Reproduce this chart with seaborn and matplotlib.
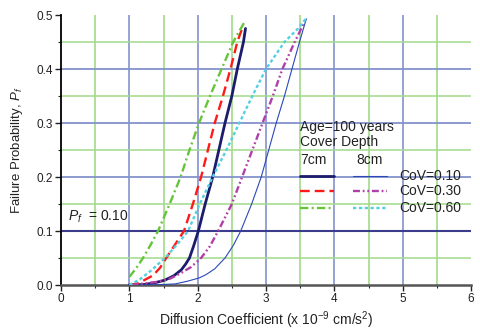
import matplotlib
matplotlib.use("Agg")
import matplotlib.pyplot as plt
import seaborn as sns
import numpy as np
from matplotlib.ticker import MultipleLocator, FormatStrFormatter

# ---------------- data ----------------
x_7_010 = [1.0, 1.23, 1.40, 1.52, 1.65, 1.76, 1.82, 1.88, 1.94, 2.01, 2.11, 2.22, 2.31, 2.40, 2.50, 2.58, 2.67, 2.70]
y_7_010 = [0.0, 0.001, 0.005, 0.009, 0.017, 0.028, 0.038, 0.05, 0.072, 0.1, 0.15, 0.2, 0.25, 0.3, 0.35, 0.4, 0.45, 0.475]

x_7_030 = [1.0, 1.13, 1.35, 1.45, 1.54, 1.67, 1.80, 1.93, 2.05, 2.15, 2.25, 2.37, 2.48, 2.58, 2.65]
y_7_030 = [0.0, 0.003, 0.018, 0.032, 0.05, 0.075, 0.1, 0.15, 0.2, 0.25, 0.3, 0.35, 0.4, 0.45, 0.475]

x_7_060 = [1.0, 1.10, 1.20, 1.31, 1.42, 1.59, 1.75, 1.88, 2.02, 2.18, 2.35, 2.52, 2.69]
y_7_060 = [0.015, 0.031, 0.05, 0.074, 0.1, 0.15, 0.2, 0.25, 0.3, 0.35, 0.4, 0.45, 0.488]

x_8_010 = [1.0, 1.4, 1.67, 1.85, 2.02, 2.12, 2.25, 2.40, 2.52, 2.63, 2.79, 2.93, 3.04, 3.15, 3.27, 3.38, 3.49, 3.59]
y_8_010 = [0.0, 0.0005, 0.002, 0.007, 0.013, 0.019, 0.03, 0.05, 0.073, 0.1, 0.15, 0.2, 0.25, 0.3, 0.35, 0.4, 0.45, 0.493]

x_8_030 = [1.03, 1.42, 1.60, 1.74, 1.90, 2.05, 2.18, 2.30, 2.50, 2.65, 2.80, 2.95, 3.10, 3.24, 3.42, 3.59]
y_8_030 = [0.0, 0.006, 0.012, 0.021, 0.033, 0.05, 0.072, 0.1, 0.15, 0.2, 0.25, 0.3, 0.35, 0.4, 0.45, 0.494]

x_8_060 = [1.0, 1.15, 1.33, 1.52, 1.70, 1.86, 2.03, 2.22, 2.42, 2.61, 2.80, 3.0, 3.27, 3.47, 3.59]
y_8_060 = [0.0, 0.01, 0.028, 0.05, 0.075, 0.1, 0.15, 0.2, 0.25, 0.3, 0.35, 0.4, 0.45, 0.475, 0.494]

cov_labels = ["CoV=0.10", "CoV=0.30", "CoV=0.60"]
depth_labels = ["7cm", "8cm"]
x_ticks = [0, 1, 2, 3, 4, 5, 6]
y_ticks = [0.0, 0.1, 0.2, 0.3, 0.4, 0.5]
pf_limit = 0.10

# ---------------- style ----------------
sns.set_style("ticks")
plt.rcParams["font.family"] = ["Liberation Sans", "DejaVu Sans"]
plt.rcParams["mathtext.fontset"] = "custom"
plt.rcParams["mathtext.rm"] = "Liberation Sans"
plt.rcParams["mathtext.it"] = "Liberation Sans:italic"
plt.rcParams["lines.scale_dashes"] = False

fig = plt.figure(figsize=(4.81, 3.30), dpi=100)
ax = fig.add_axes([61 / 481, 1 - 285 / 330, 410 / 481, 270 / 330])

blue_grid = "#8492cc"
green_grid = "#a2da8a"

# grid lines (interior only, like the reference)
for gx in np.arange(0.5, 6.0, 0.5):
    if abs(gx - round(gx)) < 1e-9:
        ax.axvline(gx, color=blue_grid, lw=1.2, zorder=0.5)
    else:
        ax.axvline(gx, color=green_grid, lw=1.2, zorder=0.5)
for gy in np.arange(0.05, 0.5, 0.05):
    gy = round(gy, 2)
    if abs(gy - pf_limit) < 1e-9:
        continue
    if abs(gy * 10 - round(gy * 10)) < 1e-9:
        ax.axhline(gy, color=blue_grid, lw=1.3, zorder=0.5)
    else:
        ax.axhline(gy, color=green_grid, lw=1.1, zorder=0.5)
ax.axhline(pf_limit, color="#3c3c8c", lw=1.5, zorder=0.6)

styles = {
    "7_010": dict(color="#1c1c6c", lw=2.0, ls="-"),
    "7_030": dict(color="#ff1a1a", lw=1.7, ls=(0, (7, 3.6))),
    "7_060": dict(color="#66c43a", lw=1.7, ls=(0, (6, 2.4, 1.4, 2.4))),
    "8_010": dict(color="#2a48b8", lw=0.8, ls="-"),
    "8_030": dict(color="#b040a8", lw=1.7, ls=(0, (5, 2, 1.3, 2, 1.3, 2))),
    "8_060": dict(color="#55d0e0", lw=1.7, ls=(0, (2.4, 1.8))),
}
series = {
    "7_010": (x_7_010, y_7_010),
    "7_030": (x_7_030, y_7_030),
    "7_060": (x_7_060, y_7_060),
    "8_010": (x_8_010, y_8_010),
    "8_030": (x_8_030, y_8_030),
    "8_060": (x_8_060, y_8_060),
}
for key, (xs, ys) in series.items():
    st = styles[key]
    sns.lineplot(x=xs, y=ys, ax=ax, color=st["color"], linewidth=st["lw"],
                 linestyle=st["ls"], zorder=3, estimator=None, sort=False)

ax.set_xlim(0, 6)
ax.set_ylim(0, 0.5)
ax.set_xticks(x_ticks)
ax.set_yticks(y_ticks)
ax.yaxis.set_major_formatter(FormatStrFormatter("%.1f"))
ax.xaxis.set_minor_locator(MultipleLocator(0.5))
ax.yaxis.set_minor_locator(MultipleLocator(0.05))
ax.tick_params(axis="both", which="major", direction="out", length=4, width=1,
               labelsize=8.5, colors="#222222", pad=2)
ax.tick_params(axis="both", which="minor", direction="out", length=2.5, width=0.8)

for s in ["top", "right"]:
    ax.spines[s].set_visible(False)
ax.spines["left"].set_color("black")
ax.spines["left"].set_linewidth(1.3)
ax.spines["bottom"].set_color("#555555")
ax.spines["bottom"].set_linewidth(1.8)

ax.set_xlabel("Diffusion Coefficient (x 10$^{-9}$ cm/s$^2$)", fontsize=10, color="#222222")
ax.xaxis.label.set_va("baseline")
ax.xaxis.set_label_coords(0.5, -(325 - 285) / 270)
ax.set_ylabel("Failure Probability, $P_f$", fontsize=9.5, color="#222222", labelpad=8)

# annotations / legend block
ax.text(0.017, 0.253, "$P_f$  = 0.10", transform=ax.transAxes, fontsize=10,
        va="center", ha="left", color="#222222")

fs = 10
tx = 0.583
ax.text(tx, 0.586, "Age=100 years", transform=ax.transAxes, fontsize=fs, va="center", color="#222222")
ax.text(tx, 0.529, "Cover Depth", transform=ax.transAxes, fontsize=fs, va="center", color="#222222")
ax.text(tx, 0.463, depth_labels[0], transform=ax.transAxes, fontsize=fs, va="center", color="#222222")
ax.text(0.721, 0.463, depth_labels[1], transform=ax.transAxes, fontsize=fs, va="center", color="#222222")
row_y = [0.405, 0.348, 0.286]
pairs = [("7_010", "8_010"), ("7_030", "8_030"), ("7_060", "8_060")]
for yy, (k7, k8), lab in zip(row_y, pairs, cov_labels):
    for k, (x0, x1) in ((k7, (0.583, 0.666)), (k8, (0.712, 0.795))):
        st = styles[k]
        ax.plot([x0, x1], [yy, yy], transform=ax.transAxes, color=st["color"],
                lw=st["lw"], ls=st["ls"], zorder=4, clip_on=False)
    ax.text(0.825, yy, lab, transform=ax.transAxes, fontsize=fs, va="center", color="#222222")

fig.savefig("out.png", dpi=100)
